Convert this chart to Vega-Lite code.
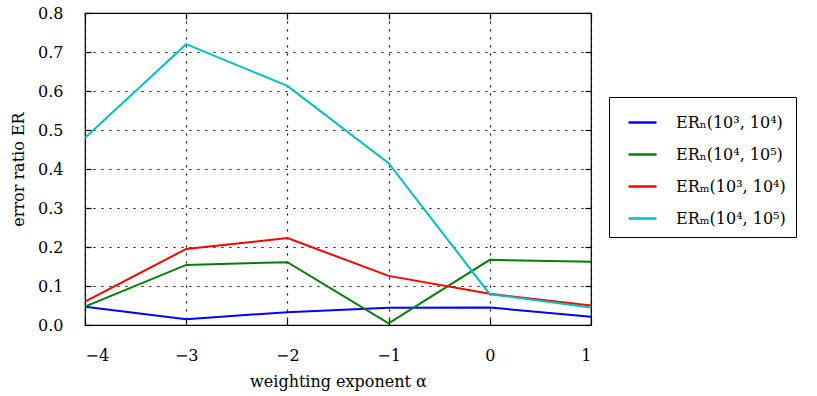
{
  "$schema": "https://vega.github.io/schema/vega-lite/v6.json",
  "width": 506,
  "height": 312,
  "autosize": {"type": "none"},
  "padding": {"left": 85, "top": 13, "right": 226, "bottom": 71},
  "background": "white",
  "config": {
    "font": "DejaVu Serif",
    "view": {"stroke": "black", "strokeWidth": 1.2},
    "axis": {"labelFont": "DejaVu Serif", "titleFont": "DejaVu Serif", "labelColor": "black", "titleColor": "black", "labelFontSize": 16, "titleFontSize": 16, "titleFontWeight": "normal", "domain": false, "tickColor": "black", "tickWidth": 1.2, "gridColor": "black", "gridDash": [2, 6], "gridWidth": 1.2, "gridOpacity": 1},
    "legend": {"labelFont": "DejaVu Serif", "labelFontSize": 16, "labelColor": "black"}
  },
  "data": {"values": [
    {"alpha": -4, "s": "ERₙ(10³, 10⁴)", "er": 0.047},
    {"alpha": -3, "s": "ERₙ(10³, 10⁴)", "er": 0.015},
    {"alpha": -2, "s": "ERₙ(10³, 10⁴)", "er": 0.033},
    {"alpha": -1, "s": "ERₙ(10³, 10⁴)", "er": 0.044},
    {"alpha": 0, "s": "ERₙ(10³, 10⁴)", "er": 0.045},
    {"alpha": 1, "s": "ERₙ(10³, 10⁴)", "er": 0.021},
    {"alpha": -4, "s": "ERₙ(10⁴, 10⁵)", "er": 0.047},
    {"alpha": -3, "s": "ERₙ(10⁴, 10⁵)", "er": 0.154},
    {"alpha": -2, "s": "ERₙ(10⁴, 10⁵)", "er": 0.161},
    {"alpha": -1, "s": "ERₙ(10⁴, 10⁵)", "er": 0.004},
    {"alpha": 0, "s": "ERₙ(10⁴, 10⁵)", "er": 0.167},
    {"alpha": 1, "s": "ERₙ(10⁴, 10⁵)", "er": 0.162},
    {"alpha": -4, "s": "ERₘ(10³, 10⁴)", "er": 0.06},
    {"alpha": -3, "s": "ERₘ(10³, 10⁴)", "er": 0.195},
    {"alpha": -2, "s": "ERₘ(10³, 10⁴)", "er": 0.223},
    {"alpha": -1, "s": "ERₘ(10³, 10⁴)", "er": 0.126},
    {"alpha": 0, "s": "ERₘ(10³, 10⁴)", "er": 0.08},
    {"alpha": 1, "s": "ERₘ(10³, 10⁴)", "er": 0.05},
    {"alpha": -4, "s": "ERₘ(10⁴, 10⁵)", "er": 0.48},
    {"alpha": -3, "s": "ERₘ(10⁴, 10⁵)", "er": 0.72},
    {"alpha": -2, "s": "ERₘ(10⁴, 10⁵)", "er": 0.613},
    {"alpha": -1, "s": "ERₘ(10⁴, 10⁵)", "er": 0.415},
    {"alpha": 0, "s": "ERₘ(10⁴, 10⁵)", "er": 0.079},
    {"alpha": 1, "s": "ERₘ(10⁴, 10⁵)", "er": 0.045}
  ]},
  "resolve": {"axis": {"x": "independent", "y": "independent"}},
  "layer": [
    {
      "mark": {"type": "line", "strokeWidth": 2, "clip": true},
      "encoding": {
        "x": {"field": "alpha", "type": "quantitative", "scale": {"domain": [-4, 1], "nice": false, "zero": false},
              "axis": {"title": "weighting exponent α", "values": [-4, -3, -2, -1, 0, 1], "format": "d", "tickSize": -6, "labelPadding": 28, "titlePadding": 10, "grid": true}},
        "y": {"field": "er", "type": "quantitative", "scale": {"domain": [0, 0.8], "nice": false},
              "axis": {"title": "error ratio ER", "values": [0, 0.1, 0.2, 0.3, 0.4, 0.5, 0.6, 0.7, 0.8], "format": ".1f", "tickSize": -6, "labelPadding": 28, "titlePadding": 11, "grid": true}},
        "color": {"field": "s", "type": "nominal", "sort": null,
                  "scale": {"domain": ["ERₙ(10³, 10⁴)", "ERₙ(10⁴, 10⁵)", "ERₘ(10³, 10⁴)", "ERₘ(10⁴, 10⁵)"], "range": ["#0000ff", "#008000", "#ff0000", "#00bfbf"]},
                  "legend": {"title": null, "orient": "none", "legendX": 524, "legendY": 84, "strokeColor": "black", "padding": 10, "symbolOffset": 8, "symbolType": "stroke", "symbolStrokeWidth": 2.5, "symbolSize": 784, "rowPadding": 8, "labelOffset": 18, "labelLimit": 300, "fillColor": "white"}}
      }
    },
    {
      "mark": {"type": "point", "opacity": 0},
      "encoding": {
        "x": {"field": "alpha", "type": "quantitative", "axis": {"orient": "top", "title": null, "labels": false, "values": [-4, -3, -2, -1, 0, 1], "tickSize": -6, "grid": false}},
        "y": {"field": "er", "type": "quantitative", "axis": {"orient": "right", "title": null, "labels": false, "values": [0, 0.1, 0.2, 0.3, 0.4, 0.5, 0.6, 0.7, 0.8], "tickSize": -6, "grid": false}}
      }
    }
  ]
}
